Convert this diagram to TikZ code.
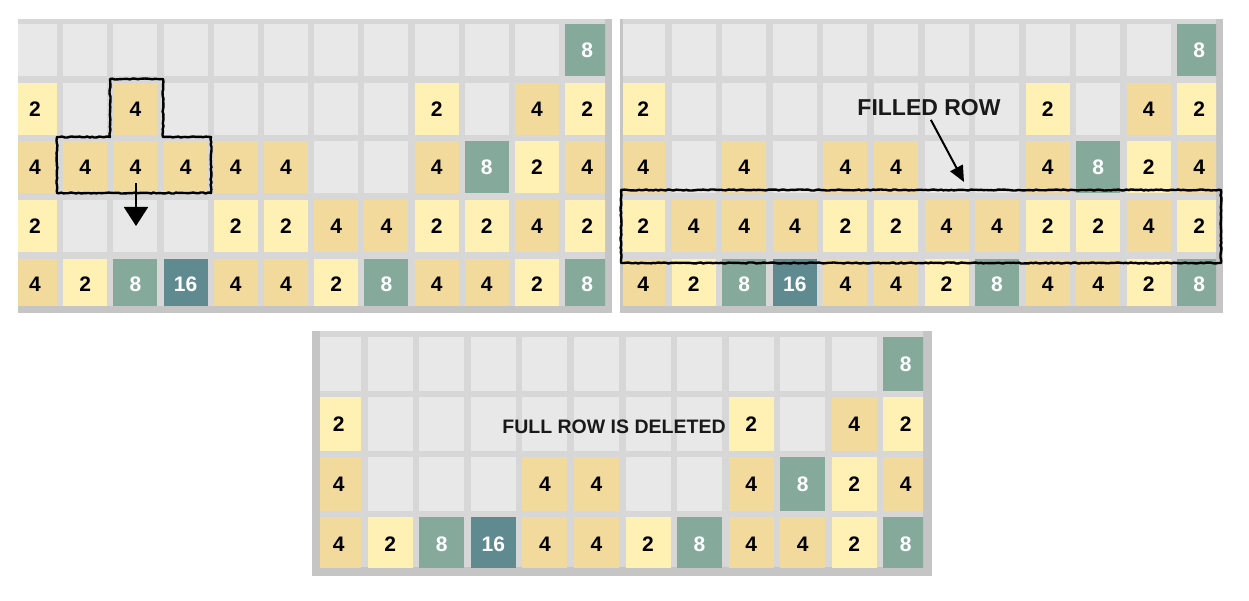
\documentclass[tikz,border=0pt]{standalone}
\usepackage{fontspec}
\setmainfont{Liberation Sans}
\usetikzlibrary{arrows.meta,decorations.pathmorphing}
\definecolor{cTwo}{HTML}{FFF0B4}
\definecolor{cFour}{HTML}{F2DA9D}
\definecolor{cEight}{HTML}{85AA9C}
\definecolor{cSixteen}{HTML}{5F8A8F}
\definecolor{cEmpty}{HTML}{E8E8E8}
\definecolor{cBoard}{HTML}{D7D7D7}
\definecolor{cEdge}{HTML}{C5C5C5}
\tikzset{
  cell/.style={draw=none, inner sep=0pt, minimum width=44pt, minimum height=52pt,
    anchor=north west, font=\fontsize{21}{21}\selectfont\bfseries},
  cellb/.style={cell, minimum width=45pt, minimum height=54pt},
  v0/.style={fill=cEmpty},
  v2/.style={fill=cTwo, text=black},
  v4/.style={fill=cFour, text=black},
  v8/.style={fill=cEight, text=white},
  v16/.style={fill=cSixteen, text=white},
  tile/.code={\edef\tilekey{v#1}\expandafter\pgfkeysalso\expandafter{\tilekey}},
  sketch/.style={draw=black, line width=2.4pt, line join=round,
    decorate, decoration={random steps, segment length=2.5pt, amplitude=0.55pt}},
  pointer/.style={draw=black, line width=2pt},
  caption/.style={inner sep=0pt, text=black!90}
}
\begin{document}
\begin{tikzpicture}[x=1pt,y=-1pt]
\pgfmathsetseed{7}
\useasboundingbox[fill=white] (0,0) rectangle (1249,601);

% ---------- panel 1 ----------
\fill[cEdge] (18,19) rectangle (612,313);
\fill[cBoard] (18,19) rectangle (605,306);
\begin{scope}
\clip (18,19) rectangle (605,306);
\foreach \row [count=\r] in {
  {0,0,0,0,0,0,0,0,0,0,0,8},
  {2,0,4,0,0,0,0,0,2,0,4,2},
  {4,4,4,4,4,4,0,0,4,8,2,4},
  {2,0,0,0,2,2,4,4,2,2,4,2},
  {4,2,8,16,4,4,2,8,4,4,2,8}}{
  \foreach \v [count=\c] in \row {
    \node[cell, tile=\v] (p1-\r-\c) at ({12.8+50.2*(\c-1)},{24+58.6*(\r-1)}) {\ifnum\v=0 \else\v\fi};
  }
}
\end{scope}
\draw[sketch] (57,193) -- (57,137) -- (110,137) -- (110,79) -- (163,79) -- (163,137) -- (211,137) -- (211,193) -- cycle;
\coordinate (t-from) at (136,183);
\coordinate (t-to) at (136,226);
\draw[pointer, -{Triangle[width=24pt,length=19pt]}] (t-from) -- (t-to);

% ---------- panel 2 ----------
\fill[cEdge] (620,19) rectangle (1223,313);
\fill[cBoard] (623,19) rectangle (1216,306);
\begin{scope}
\clip (623,19) rectangle (1216,306);
\foreach \row [count=\r] in {
  {0,0,0,0,0,0,0,0,0,0,0,8},
  {2,0,0,0,0,0,0,0,2,0,4,2},
  {4,0,4,0,4,4,0,0,4,8,2,4},
  {2,4,4,4,2,2,4,4,2,2,4,2},
  {4,2,8,16,4,4,2,8,4,4,2,8}}{
  \foreach \v [count=\c] in \row {
    \node[cell, tile=\v] (p2-\r-\c) at ({621+50.55*(\c-1)},{24+58.6*(\r-1)}) {\ifnum\v=0 \else\v\fi};
  }
}
\end{scope}
\draw[sketch] (621,190) rectangle (1221,263);
\node[caption, font=\fontsize{23}{23}\selectfont\bfseries] (filled) at (929,108) {FILLED ROW};
\coordinate (f-to) at (964,182);
\draw[pointer, shorten <=4pt, -{Triangle[width=14pt,length=16pt]}] (filled.south) -- (f-to);

% ---------- panel 3 ----------
\fill[cEdge] (312,331) rectangle (932,576);
\fill[cBoard] (320,331) rectangle (923,567);
\begin{scope}
\clip (320,331) rectangle (923,567);
\foreach \row [count=\r] in {
  {0,0,0,0,0,0,0,0,0,0,0,8},
  {2,0,0,0,0,0,0,0,2,0,4,2},
  {4,0,0,0,4,4,0,0,4,8,2,4},
  {4,2,8,16,4,4,2,8,4,4,2,8}}{
  \foreach \v [count=\c] in \row {
    \node[cellb, tile=\v] (p3-\r-\c) at ({316+51.55*(\c-1)},{337+60*(\r-1)}) {\ifnum\v=0 \else\v\fi};
  }
}
\end{scope}
\node[caption, font=\fontsize{19.5}{19.5}\selectfont\bfseries] (deleted) at (614,427) {FULL ROW IS DELETED};
\end{tikzpicture}
\end{document}
